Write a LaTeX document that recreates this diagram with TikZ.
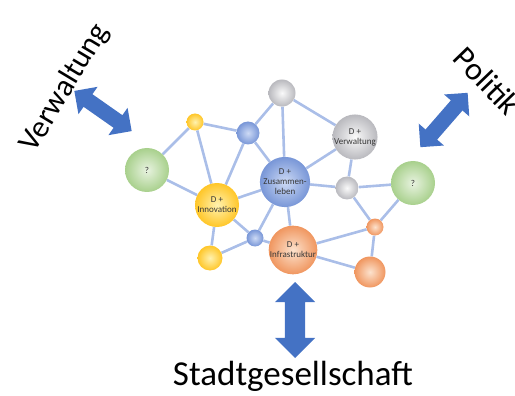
\documentclass[tikz,border=0pt]{standalone}
\usepackage{fontspec}
\setmainfont{Carlito}
\usepackage{tikz}
\usetikzlibrary{shapes.arrows,backgrounds}

\definecolor{arrowblue}{RGB}{68,114,196}
\definecolor{linkblue}{RGB}{170,190,232}
\definecolor{labelgray}{RGB}{55,55,55}

\tikzset{
  ball/.style={circle, draw=none, inner sep=0pt, align=center, text=labelgray, font=\fontsize{9}{10}\selectfont},
  blueball/.style={ball, inner color={rgb,255:red,205;green,218;blue,245}, outer color={rgb,255:red,120;green,150;blue,215}},
  grayball/.style={ball, inner color={rgb,255:red,250;green,250;blue,250}, outer color={rgb,255:red,185;green,185;blue,190}},
  greenball/.style={ball, inner color={rgb,255:red,232;green,243;blue,224}, outer color={rgb,255:red,168;green,208;blue,140}},
  yellowball/.style={ball, inner color={rgb,255:red,255;green,242;blue,175}, outer color={rgb,255:red,255;green,198;blue,40}},
  orangeball/.style={ball, inner color={rgb,255:red,252;green,226;blue,205}, outer color={rgb,255:red,240;green,150;blue,95}},
  link/.style={draw=linkblue, line width=2.6pt},
  bigarrow/.style={double arrow, fill=arrowblue, draw=none, inner xsep=0pt},
  side/.style={text=black}
}

\begin{document}
\begin{tikzpicture}[x=1pt, y=-1pt]
\useasboundingbox (0,0) rectangle (515,396);

% Nodes
\node (grayTop) [grayball, minimum size=27pt] at (282,93) {};
\node (yellowTop) [yellowball, minimum size=17pt] at (195,122) {};
\node (blueTop) [blueball, minimum size=23pt] at (248,133) {};
\node (verwaltung) [grayball, minimum size=44pt] at (355,137) {D +\\Verwaltung};
\node (greenLeft) [greenball, minimum size=44pt] at (147,170) {?};
\node (zusammen) [blueball, minimum size=44pt] at (285,182) {D +\\Zusammen-\\leben};
\node (graySmall) [grayball, minimum size=23pt] at (347,188) {};
\node (greenRight) [greenball, minimum size=44pt] at (413,183) {?};
\node (innovation) [yellowball, minimum size=44pt] at (217,205) {D +\\Innovation};
\node (blueBottom) [blueball, minimum size=17pt] at (255,238) {};
\node (infrastruktur) [orangeball, minimum size=44pt] at (293,250) {D +\\Infrastruktur};
\node (orangeSmall) [orangeball, minimum size=17pt] at (375,227) {};
\node (yellowBottom) [yellowball, minimum size=25pt] at (210,258) {};
\node (orangeBottom) [orangeball, minimum size=31pt] at (370,272) {};

% Outer labels
\node (verwLabel) [side, font=\fontsize{31}{34}\selectfont, rotate=59] at (65,88) {Verwaltung};
\node (politikLabel) [side, font=\fontsize{32}{34}\selectfont, rotate=-46] at (487,81) {Politik};
\node (stadtLabel) [side, font=\fontsize{35}{38}\selectfont, anchor=base] at (293,385) {Stadtgesellschaft};

% Block arrows
\node (verwArrow) [bigarrow, rotate=-35, minimum height=70pt, inner ysep=7.5pt, double arrow head extend=9pt] at (103,111) {};
\node (politikArrow) [bigarrow, rotate=49, minimum height=72pt, inner ysep=7.5pt, double arrow head extend=9pt] at (444,120) {};
\node (stadtArrow) [bigarrow, rotate=90, minimum height=76pt, inner ysep=10pt, double arrow head extend=10pt] at (295,320) {};

% Links
\begin{pgfonlayer}{background}
\draw[link] (greenLeft) -- (yellowTop);
\draw[link] (greenLeft) -- (innovation);
\draw[link] (yellowTop) -- (blueTop);
\draw[link] (yellowTop) -- (innovation);
\draw[link] (blueTop) -- (grayTop);
\draw[link] (blueTop) -- (innovation);
\draw[link] (blueTop) -- (zusammen);
\draw[link] (grayTop) -- (zusammen);
\draw[link] (grayTop) -- (verwaltung);
\draw[link] (verwaltung) -- (zusammen);
\draw[link] (verwaltung) -- (graySmall);
\draw[link] (zusammen) -- (graySmall);
\draw[link] (zusammen) -- (innovation);
\draw[link] (zusammen) -- (blueBottom);
\draw[link] (zusammen) -- (infrastruktur);
\draw[link] (graySmall) -- (greenRight);
\draw[link] (graySmall) -- (orangeSmall);
\draw[link] (greenRight) -- (orangeSmall);
\draw[link] (innovation) -- (blueBottom);
\draw[link] (innovation) -- (yellowBottom);
\draw[link] (blueBottom) -- (yellowBottom);
\draw[link] (blueBottom) -- (infrastruktur);
\draw[link] (infrastruktur) -- (orangeSmall);
\draw[link] (infrastruktur) -- (orangeBottom);
\draw[link] (orangeSmall) -- (orangeBottom);
\end{pgfonlayer}

\end{tikzpicture}
\end{document}
